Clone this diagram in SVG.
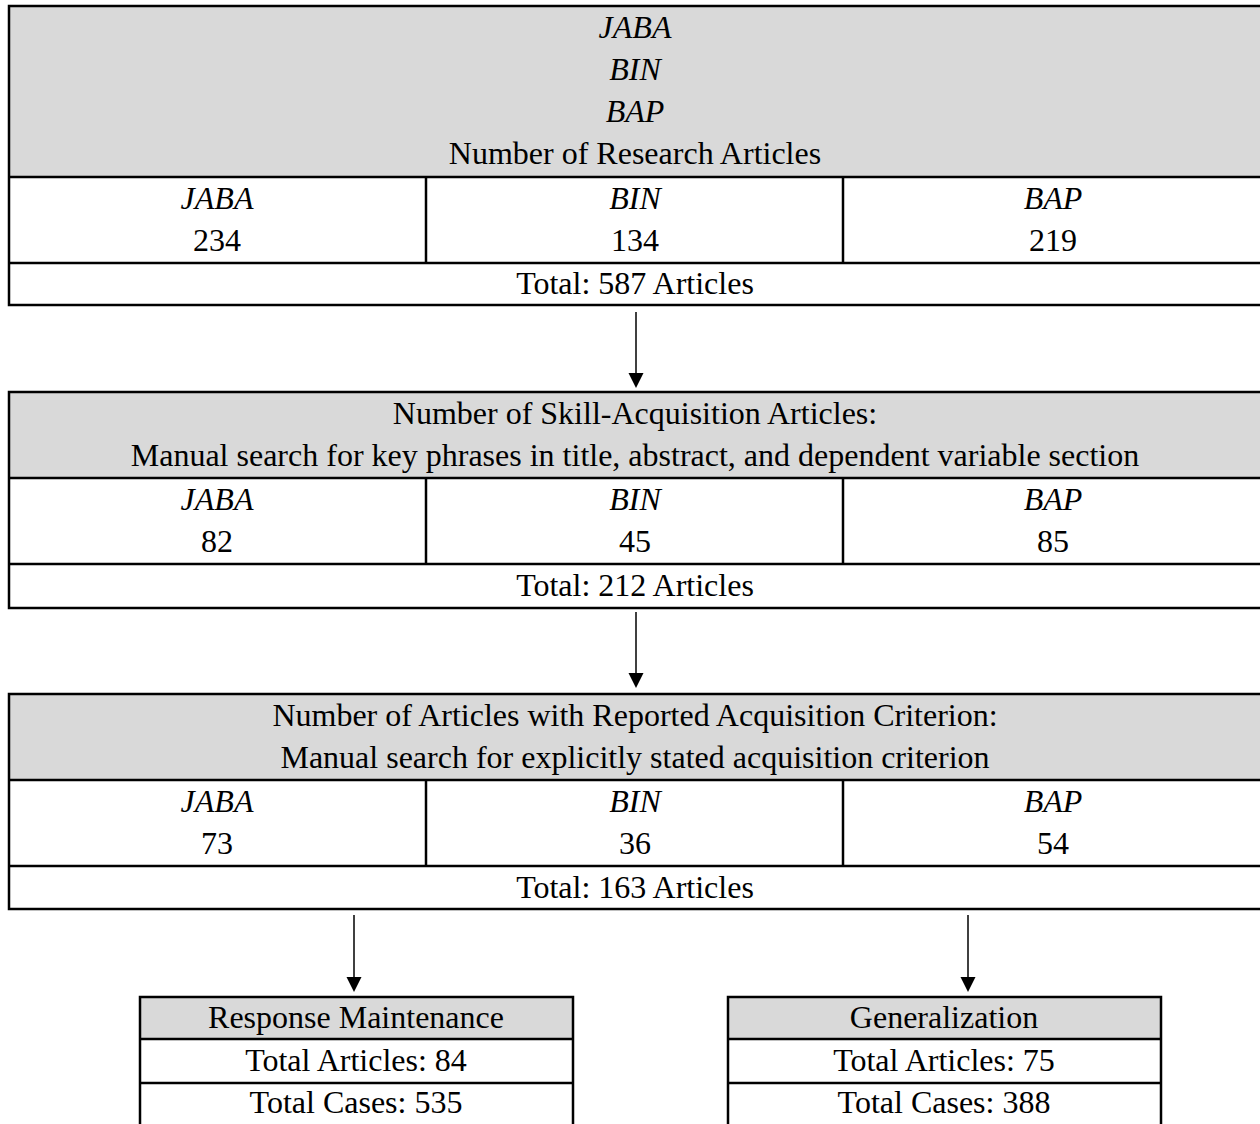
<svg xmlns="http://www.w3.org/2000/svg" width="1260" height="1124" viewBox="0 0 1260 1124">
<style>
.hdr{fill:#d9d9d9;stroke:none}
.frame{fill:none;stroke:#000;stroke-width:2.5}
.div{stroke:#000;stroke-width:2.5;fill:none}
.conn{stroke:#000;stroke-width:1.5;fill:none}
.head{fill:#000;stroke:none}
text{font-family:"Liberation Serif","Times New Roman",serif;font-size:32px;fill:#000;text-anchor:middle}
.it{font-style:italic}
</style>
<rect x="0" y="0" width="1260" height="1124" fill="#fff"/>
<g id="box1">
<rect class="hdr" x="9" y="6" width="1253" height="171"/>
<rect class="frame" x="9" y="6" width="1253" height="299"/>
<line class="div" x1="9" y1="177" x2="1262" y2="177"/>
<line class="div" x1="9" y1="263" x2="1262" y2="263"/>
<line class="div" x1="426" y1="177" x2="426" y2="263"/>
<line class="div" x1="843" y1="177" x2="843" y2="263"/>
<text class="it" x="635" y="38">JABA</text>
<text class="it" x="635" y="80">BIN</text>
<text class="it" x="635" y="122">BAP</text>
<text x="635" y="164">Number of Research Articles</text>
<text class="it" x="217" y="209">JABA</text>
<text class="it" x="635" y="209">BIN</text>
<text class="it" x="1053" y="209">BAP</text>
<text x="217" y="251">234</text>
<text x="635" y="251">134</text>
<text x="1053" y="251">219</text>
<text x="635" y="294">Total: 587 Articles</text>
</g>
<g id="box2">
<rect class="hdr" x="9" y="392" width="1253" height="86"/>
<rect class="frame" x="9" y="392" width="1253" height="216"/>
<line class="div" x1="9" y1="478" x2="1262" y2="478"/>
<line class="div" x1="9" y1="564" x2="1262" y2="564"/>
<line class="div" x1="426" y1="478" x2="426" y2="564"/>
<line class="div" x1="843" y1="478" x2="843" y2="564"/>
<text x="635" y="424">Number of Skill-Acquisition Articles:</text>
<text x="635" y="466">Manual search for key phrases in title, abstract, and dependent variable section</text>
<text class="it" x="217" y="510">JABA</text>
<text class="it" x="635" y="510">BIN</text>
<text class="it" x="1053" y="510">BAP</text>
<text x="217" y="552">82</text>
<text x="635" y="552">45</text>
<text x="1053" y="552">85</text>
<text x="635" y="596">Total: 212 Articles</text>
</g>
<g id="box3">
<rect class="hdr" x="9" y="694" width="1253" height="86"/>
<rect class="frame" x="9" y="694" width="1253" height="215"/>
<line class="div" x1="9" y1="780" x2="1262" y2="780"/>
<line class="div" x1="9" y1="866" x2="1262" y2="866"/>
<line class="div" x1="426" y1="780" x2="426" y2="866"/>
<line class="div" x1="843" y1="780" x2="843" y2="866"/>
<text x="635" y="726">Number of Articles with Reported Acquisition Criterion:</text>
<text x="635" y="768">Manual search for explicitly stated acquisition criterion</text>
<text class="it" x="217" y="812">JABA</text>
<text class="it" x="635" y="812">BIN</text>
<text class="it" x="1053" y="812">BAP</text>
<text x="217" y="854">73</text>
<text x="635" y="854">36</text>
<text x="1053" y="854">54</text>
<text x="635" y="898">Total: 163 Articles</text>
</g>
<g id="maintenance">
<rect class="hdr" x="140" y="997" width="433" height="42"/>
<path class="div" d="M140,1126 V997 H573 V1126"/>
<line class="div" x1="140" y1="1039" x2="573" y2="1039"/>
<line class="div" x1="140" y1="1083" x2="573" y2="1083"/>
<text x="356" y="1028">Response Maintenance</text>
<text x="356" y="1071">Total Articles: 84</text>
<text x="356" y="1113">Total Cases: 535</text>
</g>
<g id="generalization">
<rect class="hdr" x="728" y="997" width="433" height="42"/>
<path class="div" d="M728,1126 V997 H1161 V1126"/>
<line class="div" x1="728" y1="1039" x2="1161" y2="1039"/>
<line class="div" x1="728" y1="1083" x2="1161" y2="1083"/>
<text x="944" y="1028">Generalization</text>
<text x="944" y="1071">Total Articles: 75</text>
<text x="944" y="1113">Total Cases: 388</text>
</g>
<g id="connectors">
<line class="conn" x1="636" y1="312" x2="636" y2="374"/>
<polygon class="head" points="628.5,373 643.5,373 636,388"/>
<line class="conn" x1="636" y1="612" x2="636" y2="674"/>
<polygon class="head" points="628.5,673 643.5,673 636,688"/>
<line class="conn" x1="354" y1="915" x2="354" y2="978"/>
<polygon class="head" points="346.5,977 361.5,977 354,992"/>
<line class="conn" x1="968" y1="915" x2="968" y2="978"/>
<polygon class="head" points="960.5,977 975.5,977 968,992"/>
</g>
</svg>
